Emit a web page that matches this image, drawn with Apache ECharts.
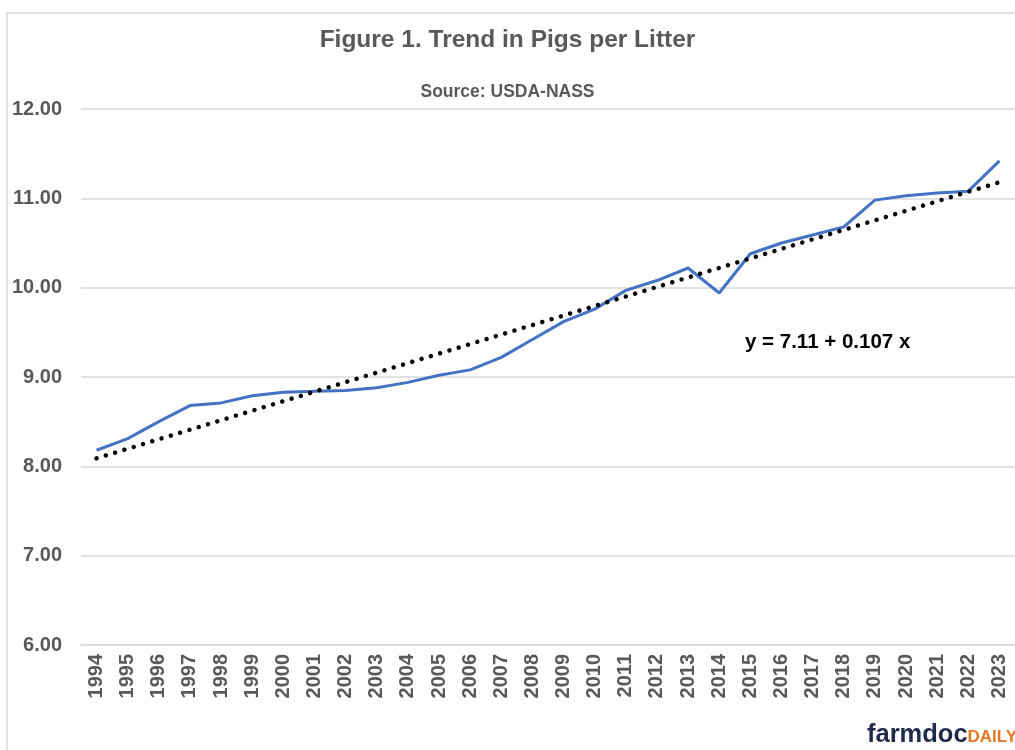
<!DOCTYPE html>
<html>
<head>
<meta charset="utf-8">
<script src="https://cdn.jsdelivr.net/npm/echarts@6/dist/echarts.min.js"></script>
<style>
  html, body { margin: 0; padding: 0; background: #fff; }
  #chart { width: 1015px; height: 750px; }
</style>
</head>
<body>
<div id="chart"></div>
<script>
var years = ['1994','1995','1996','1997','1998','1999','2000','2001','2002','2003',
             '2004','2005','2006','2007','2008','2009','2010','2011','2012','2013',
             '2014','2015','2016','2017','2018','2019','2020','2021','2022','2023'];

var pigsPerLitter = [8.18, 8.31, 8.50, 8.68, 8.71, 8.79, 8.83, 8.84, 8.85, 8.88,
                     8.94, 9.02, 9.08, 9.22, 9.42, 9.62, 9.76, 9.97, 10.08, 10.22,
                     9.94, 10.38, 10.50, 10.59, 10.68, 10.98, 11.03, 11.06, 11.08, 11.42];

// trend line end points
var trendPoints = [['1994', 8.09], ['2023', 11.18]];

var yTicks = [6, 7, 8, 9, 10, 11, 12];

var myChart = echarts.init(document.getElementById('chart'));

var option = {
    backgroundColor: '#fff',
    animation: false,
    title: [
        {
            text: 'Figure 1. Trend in Pigs per Litter',
            left: 'center',
            top: 23,
            textStyle: { fontFamily: 'Liberation Sans', fontWeight: 'bold', fontSize: 24.5, color: '#595959' }
        },
        {
            text: 'Source: USDA-NASS',
            left: 'center',
            top: 78,
            textStyle: { fontFamily: 'Liberation Sans', fontWeight: 'bold', fontSize: 17.5, color: '#595959' }
        }
    ],
    grid: { left: 81, right: 0, top: 109, bottom: 105 },
    xAxis: {
        type: 'category',
        data: years,
        boundaryGap: true,
        axisLine: { lineStyle: { color: '#d9d9d9', width: 1.5 } },
        axisTick: { show: false },
        axisLabel: {
            rotate: 90,
            interval: 0,
            margin: 9,
            fontFamily: 'Liberation Sans',
            fontWeight: 'bold',
            fontSize: 20,
            color: '#595959'
        }
    },
    yAxis: {
        type: 'value',
        min: yTicks[0],
        max: yTicks[yTicks.length - 1],
        interval: 1,
        axisLine: { show: false },
        axisTick: { show: false },
        splitLine: { lineStyle: { color: '#d9d9d9', width: 1.5 } },
        axisLabel: {
            margin: 19,
            fontFamily: 'Liberation Sans',
            fontWeight: 'bold',
            fontSize: 20,
            color: '#595959',
            formatter: function (v) { return v.toFixed(2); }
        }
    },
    series: [
        {
            name: 'Pigs per Litter',
            type: 'line',
            data: pigsPerLitter,
            symbol: 'none',
            lineStyle: { color: '#4472C4', width: 3 },
            z: 3
        },
        {
            name: 'Trend',
            type: 'line',
            data: trendPoints,
            symbol: 'none',
            lineStyle: { color: '#000', width: 4.5, type: [0.01, 9.7], cap: 'round' },
            z: 4
        }
    ],
    graphic: [
        {
            type: 'rect',
            shape: { x: 7, y: 13, width: 1100, height: 800 },
            style: { fill: 'none', stroke: '#d9d9d9', lineWidth: 1.5 },
            silent: true,
            z: -1
        },
        {
            type: 'text',
            left: 745,
            top: 332,
            style: {
                text: 'y = 7.11 + 0.107 x',
                fontFamily: 'Liberation Sans',
                fontWeight: 'bold',
                fontSize: 20.5,
                fill: '#000'
            }
        },
        {
            type: 'text',
            right: -2,
            top: 722,
            style: {
                text: '{a|farmdoc}{b|DAILY}',
                rich: {
                    a: { fontFamily: 'Liberation Sans', fontWeight: 'bold', fontSize: 25.5, fill: '#1f2a4a', color: '#1f2a4a' },
                    b: { fontFamily: 'Liberation Sans', fontWeight: 'bold', fontSize: 17, fill: '#e87722', color: '#e87722', padding: [5, 0, 0, 0] }
                }
            }
        }
    ]
};

myChart.setOption(option);
</script>
</body>
</html>
